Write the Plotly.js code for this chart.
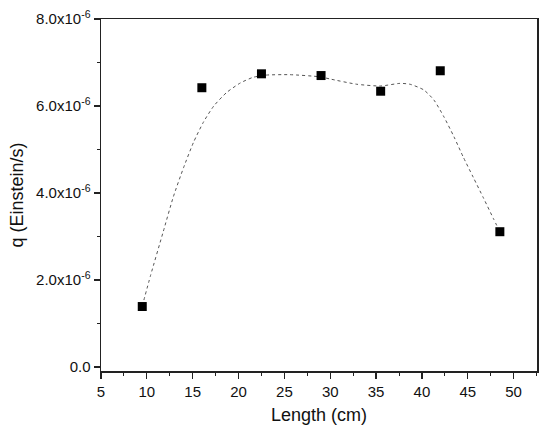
<!DOCTYPE html>
<html>
<head>
<meta charset="utf-8">
<script src="https://cdn.plot.ly/plotly-3.0.1.min.js"></script>
<style>
  html, body { margin: 0; padding: 0; background: #fff; }
  #chart { width: 550px; height: 435px; }
</style>
</head>
<body>
<div id="chart"></div>
<script>
// ── Data ──────────────────────────────────────────────────────
var lengthCm = [9.5, 16, 22.5, 29, 35.5, 42, 48.5];
var qValues  = [1.39e-6, 6.42e-6, 6.74e-6, 6.70e-6, 6.34e-6, 6.81e-6, 3.11e-6];

// smoothed guide curve (dotted)
var curveX = [9.5, 10.4, 11.8, 12.9, 14.0, 15.1, 16.2, 17.3, 18.7, 20.2, 21.6, 23.0, 25.6,
              28.9, 30.0, 32.9, 35.5, 37.6, 38.7, 40.2, 41.3, 42.4, 43.5, 44.5, 45.6,
              46.7, 47.8, 48.5];
var curveY = [1.40e-6, 2.10e-6, 3.12e-6, 3.92e-6, 4.58e-6, 5.17e-6, 5.64e-6, 6.00e-6,
              6.31e-6, 6.53e-6, 6.66e-6, 6.71e-6, 6.72e-6, 6.67e-6, 6.62e-6, 6.50e-6,
              6.46e-6, 6.52e-6, 6.50e-6, 6.37e-6, 6.14e-6, 5.75e-6, 5.29e-6, 4.83e-6,
              4.36e-6, 3.89e-6, 3.41e-6, 3.11e-6];

var yTickVals = [0, 2e-6, 4e-6, 6e-6, 8e-6];
var yTickText = ['0.0', '2.0x10<sup>-6</sup>', '4.0x10<sup>-6</sup>', '6.0x10<sup>-6</sup>', '8.0x10<sup>-6</sup>'];
var xTickVals = [5, 10, 15, 20, 25, 30, 35, 40, 45, 50];

var FONT = 'Liberation Sans, Arial, sans-serif';

var traces = [
    { x: curveX, y: curveY, mode: 'lines',
      line: { color: '#555', dash: 'dot', width: 1, shape: 'spline', smoothing: 0.6 },
      hoverinfo: 'skip', showlegend: false },
    { x: lengthCm, y: qValues, mode: 'markers',
      marker: { symbol: 'square', size: 9, color: '#000' },
      showlegend: false }
];

var axisCommon = {
    showgrid: false, zeroline: false,
    showline: true, linecolor: '#222', linewidth: 1.5, mirror: true,
    ticks: 'outside', ticklen: 6, tickwidth: 1.2, tickcolor: '#222',
    tickfont: { family: FONT, size: 15, color: '#111' }
};

var layout = {
    width: 550, height: 435,
    paper_bgcolor: '#fff', plot_bgcolor: '#fff',
    margin: { l: 101, r: 13, t: 19, b: 64 },
    showlegend: false,
    font: { family: FONT, color: '#111' },
    xaxis: Object.assign({}, axisCommon, {
        range: [5, 52.55],
        tickvals: xTickVals,
        minor: { dtick: 2.5, tick0: 5, ticks: 'outside', ticklen: 3, tickcolor: '#222', tickwidth: 1 },
        title: { text: 'Length (cm)', font: { family: FONT, size: 18, color: '#111' }, standoff: 10 }
    }),
    yaxis: Object.assign({}, axisCommon, {
        range: [-0.092e-6, 8.0e-6],
        tickvals: yTickVals, ticktext: yTickText,
        minor: { dtick: 1e-6, tick0: 0, ticks: 'outside', ticklen: 3, tickcolor: '#222', tickwidth: 1 },
        title: { text: 'q (Einstein/s)', font: { family: FONT, size: 18, color: '#111' }, standoff: 8 }
    })
};

Plotly.newPlot('chart', traces, layout, { displayModeBar: false, staticPlot: true });
</script>
</body>
</html>
